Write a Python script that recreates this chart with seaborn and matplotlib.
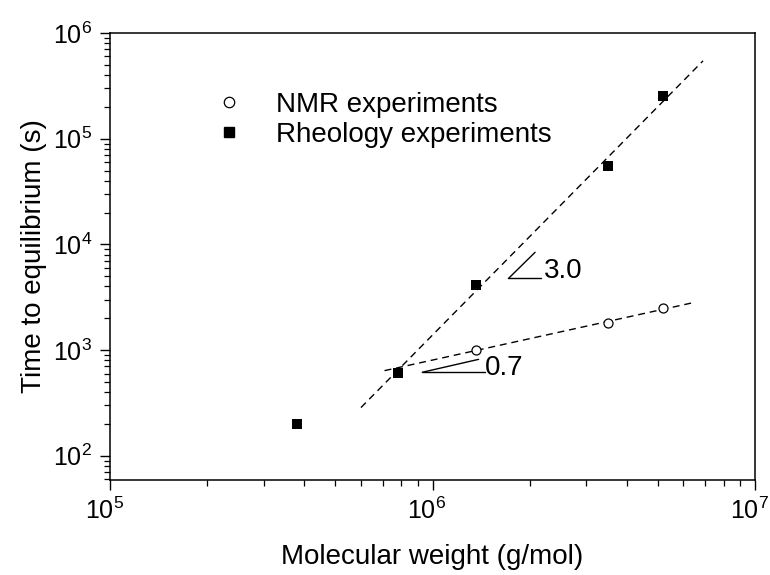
import numpy as np
import pandas as pd
import matplotlib
matplotlib.use("Agg")
import matplotlib.pyplot as plt
import seaborn as sns
from matplotlib.lines import Line2D
from matplotlib.ticker import LogLocator, NullFormatter
from matplotlib.transforms import ScaledTranslation

# ---- data ----
nmr_mw = [1.36e6, 3.5e6, 5.2e6]
nmr_t = [1000, 1800, 2500]
rheo_mw = [3.8e5, 7.8e5, 1.36e6, 3.5e6, 5.2e6]
rheo_t = [200, 610, 4100, 55000, 255000]
# ranges over which the power-law fits are drawn
rheo_fit_range = [6.0e5, 6.9e6]
nmr_fit_range = [7.1e5, 6.4e6]
slope_labels = ["3.0", "0.7"]

sns.set_theme(style="ticks")
plt.rcParams["font.family"] = ["Liberation Sans", "DejaVu Sans"]
plt.rcParams["mathtext.fontset"] = "custom"
plt.rcParams["mathtext.rm"] = "Liberation Sans"
plt.rcParams["mathtext.it"] = "Liberation Sans:italic"
plt.rcParams["mathtext.default"] = "regular"
plt.rcParams["text.color"] = "black"
plt.rcParams["axes.labelcolor"] = "black"
plt.rcParams["xtick.color"] = "black"
plt.rcParams["ytick.color"] = "black"

fig = plt.figure(figsize=(7.7, 5.75), dpi=100)
ax = fig.add_axes([110 / 770, 1 - 480 / 575, 645 / 770, 447 / 575])

# power-law fits (log-log least squares)
def fit_line(x, y, rng):
    p = np.polyfit(np.log10(x), np.log10(y), 1)
    xs = np.geomspace(rng[0], rng[1], 50)
    return p, pd.DataFrame({"x": xs, "y": 10 ** np.polyval(p, np.log10(xs))})

p_rheo, df_rheo_fit = fit_line(rheo_mw[1:], rheo_t[1:], rheo_fit_range)
p_nmr, df_nmr_fit = fit_line(nmr_mw, nmr_t, nmr_fit_range)

for d in (df_rheo_fit, df_nmr_fit):
    sns.lineplot(data=d, x="x", y="y", ax=ax, color="black", lw=1.0,
                 linestyle=(0, (5, 3.5)), zorder=2)

df_nmr = pd.DataFrame({"mw": nmr_mw, "t": nmr_t})
df_rheo = pd.DataFrame({"mw": rheo_mw, "t": rheo_t})
sns.scatterplot(data=df_nmr, x="mw", y="t", ax=ax, marker="o", s=42,
                facecolor="white", edgecolor="black", linewidth=0.9, zorder=3)
sns.scatterplot(data=df_rheo, x="mw", y="t", ax=ax, marker="s", s=44,
                color="black", edgecolor="black", linewidth=0, zorder=3)

ax.set_xscale("log")
ax.set_yscale("log")
ax.set_xlim(1e5, 1e7)
ax.set_ylim(59, 1e6)
for axis in (ax.xaxis, ax.yaxis):
    axis.set_major_locator(LogLocator(base=10, numticks=20))
    axis.set_minor_locator(LogLocator(base=10, subs=np.arange(2, 10), numticks=100))
    axis.set_minor_formatter(NullFormatter())

# slope triangles
def slope_triangle(x0, y0, x1, slope, label, tx, ty):
    y1 = y0 * (x1 / x0) ** slope
    ax.plot([x0, x1 * 1.045], [y0, y0], color="black", lw=1.0)
    ax.plot([x0, x1], [y0, y1], color="black", lw=1.0)
    ax.text(tx, ty, label, fontsize=20, ha="left", va="center")

slope_triangle(1.72e6, 4760, 2.08e6, 3.0, slope_labels[0], 2.22e6, 5600)
slope_triangle(9.3e5, 617, 1.39e6, 0.7, slope_labels[1], 1.45e6, 680)

ax.set_xlabel("Molecular weight (g/mol)", fontsize=20, labelpad=14)
ax.set_ylabel("Time to equilibrium (s)", fontsize=20, labelpad=4)

for s in ax.spines.values():
    s.set_linewidth(1.1)
    s.set_color("black")
ax.tick_params(axis="both", which="major", labelsize=18, length=7, width=1.0,
               direction="out", pad=6)
ax.tick_params(axis="both", which="minor", length=4, width=0.9,
               direction="out")

# centre the "10" of each x tick label on its tick, as in the reference
shift = ScaledTranslation(-4 / 72, 0, fig.dpi_scale_trans)
for lbl in ax.get_xticklabels():
    lbl.set_transform(lbl.get_transform() + shift)

handles = [
    Line2D([], [], marker="o", ls="", markerfacecolor="white",
           markeredgecolor="black", markersize=7.5, markeredgewidth=0.9),
    Line2D([], [], marker="s", ls="", markerfacecolor="black",
           markeredgecolor="black", markersize=7),
]
ax.legend(handles, ["NMR experiments", "Rheology experiments"], loc="upper left",
          bbox_to_anchor=(0.163, 0.868), frameon=False, fontsize=20,
          handlelength=1.0, handletextpad=1.2, labelspacing=0.15,
          borderaxespad=0, borderpad=0)

fig.savefig("out.png", dpi=100)
